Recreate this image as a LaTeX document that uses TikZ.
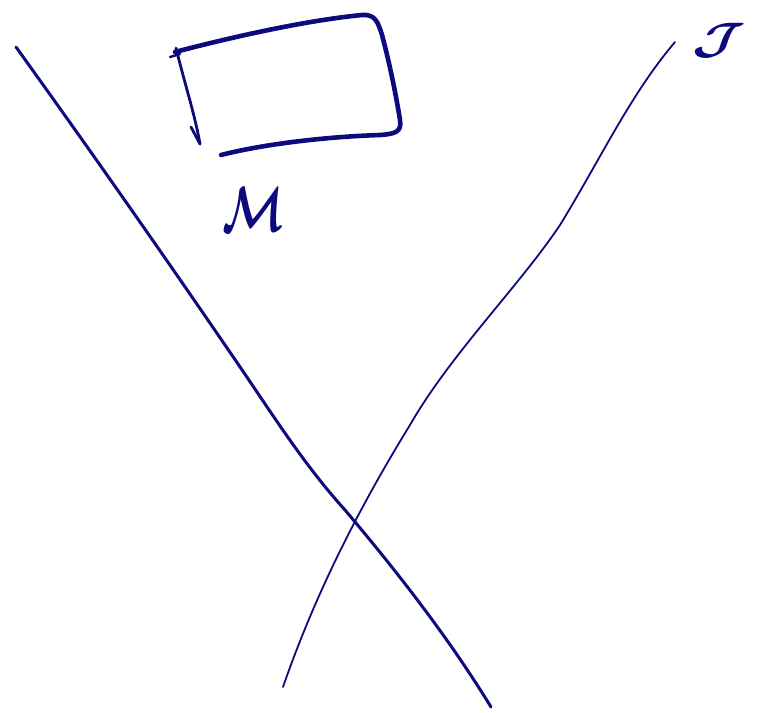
\documentclass[tikz,border=0pt]{standalone}
\usepackage{amssymb}
\usepackage{graphicx}
\definecolor{ink}{RGB}{12,10,125}
\tikzset{
  pen/.style={draw=ink, line cap=round, line join=round},
  lbl/.style={text=ink, inner sep=0pt}
}
\begin{document}
\begin{tikzpicture}[x=1pt,y=-1pt]
\useasboundingbox (0,0) rectangle (759,712);
% left world line
\draw[pen, line width=3pt] (16,47) .. controls (90,150) and (160,250) .. (225,345)
  .. controls (270,410) and (300,460) .. (345,510)
  .. controls (400,575) and (450,640) .. (491,707);
% right curve
\draw[pen, line width=1.8pt] (675,42) .. controls (630,95) and (600,160) .. (560,225)
  .. controls (520,285) and (450,355) .. (410,425)
  .. controls (370,490) and (320,580) .. (283,687);
% rectangle-ish loop
\draw[pen, line width=4.6pt] (175,52) .. controls (240,35) and (310,20) .. (362,15)
  .. controls (375,14) and (378,22) .. (382,35)
  .. controls (390,65) and (396,95) .. (400,120)
  .. controls (402,132) and (395,134) .. (380,135)
  .. controls (320,137) and (260,145) .. (221,155);
% left side with arrow
\draw[pen, line width=2.8pt] (176,48) .. controls (185,85) and (195,115) .. (200,144);
\draw[pen, line width=2.8pt] (191,127) -- (200,144);
\draw[pen, line width=2.4pt] (170,57) -- (180,54);
% labels
\node[lbl] (m) at (253,210) {\scalebox{4.5}[6.4]{\boldmath$\mathcal{M}$}};
\node[lbl] (scri) at (719,41) {\scalebox{5.5}[4.4]{\boldmath$\mathcal{J}$}};
\end{tikzpicture}
\end{document}
